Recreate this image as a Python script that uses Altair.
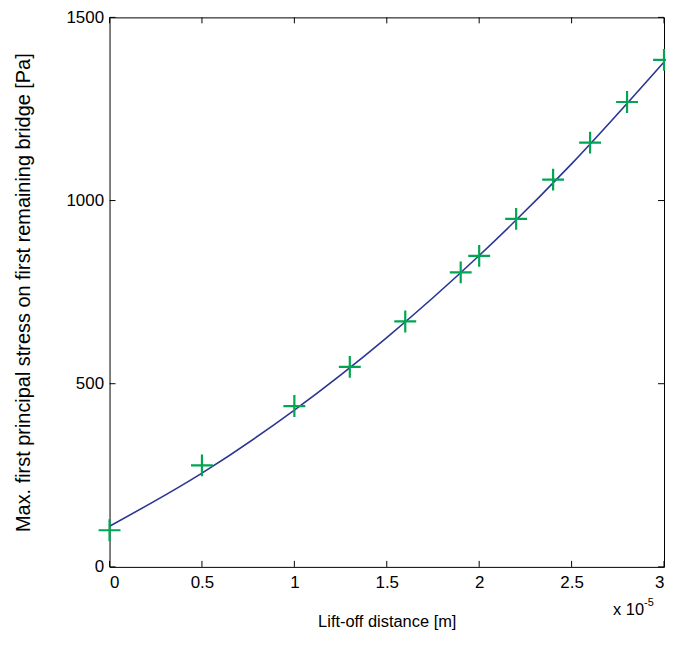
import altair as alt
import pandas as pd

# Data (x in units of 1e-5 m)
marker_x = [0.0, 0.5, 1.0, 1.3, 1.6, 1.9, 2.0, 2.2, 2.4, 2.6, 2.8, 3.0]
marker_y = [100, 277, 439, 546, 670, 804, 849, 950, 1057, 1158, 1269, 1384]

fit_x = [0.0, 0.5, 1.0, 1.5, 2.0, 2.5, 3.0]
fit_y = [111, 256, 428, 626, 850, 1100, 1378]

x_ticks = [0.0, 0.5, 1.0, 1.5, 2.0, 2.5, 3.0]
y_ticks = [0, 500, 1000, 1500]

W, H = 557, 552
FONT = "Liberation Sans"

markers = pd.DataFrame({"x": marker_x, "y": marker_y})
fit = pd.DataFrame({"x": fit_x, "y": fit_y})
xt = pd.DataFrame({"x": x_ticks})
yt = pd.DataFrame({"y": y_ticks})

xscale = alt.Scale(domain=[0, 3], nice=False, zero=False)
yscale = alt.Scale(domain=[0, 1500], nice=False, zero=False)

xaxis = alt.Axis(values=x_ticks, format="~g", domain=False, ticks=False, grid=False,
                 labelFont=FONT, labelFontSize=17, labelColor="black", labelPadding=8,
                 title="Lift-off distance [m]", titleFont=FONT, titleFontSize=16.5,
                 titleFontWeight="normal", titleColor="black", titlePadding=23)
yaxis = alt.Axis(values=y_ticks, format="d", domain=False, ticks=False, grid=False,
                 labelFont=FONT, labelFontSize=17, labelColor="black", labelPadding=6,
                 title="Max. first principal stress on first remaining bridge [Pa]",
                 titleFont=FONT, titleFontSize=20, titleFontWeight="normal",
                 titleColor="black", titlePadding=33)

X = alt.X("x:Q", scale=xscale, axis=xaxis)
Y = alt.Y("y:Q", scale=yscale, axis=yaxis)

line = alt.Chart(fit).mark_line(color="#2b3594", strokeWidth=1.6, interpolate="monotone").encode(
    x=X, y=Y)

pts = alt.Chart(markers).mark_point(
    shape="M-1,0L1,0M0,-1L0,1", filled=False, color="#00a651", strokeWidth=2.2,
    size=484, opacity=1, clip=False,
).encode(x=X, y=Y)

tick_len = 6
bx = alt.Chart(xt).mark_rule(color="black", strokeWidth=1).encode(
    x=X, y=alt.value(H), y2=alt.value(H - tick_len))
tx = alt.Chart(xt).mark_rule(color="black", strokeWidth=1).encode(
    x=X, y=alt.value(0), y2=alt.value(tick_len))
ly = alt.Chart(yt).mark_rule(color="black", strokeWidth=1).encode(
    y=Y, x=alt.value(0), x2=alt.value(tick_len))
ry = alt.Chart(yt).mark_rule(color="black", strokeWidth=1).encode(
    y=Y, x=alt.value(W), x2=alt.value(W - tick_len))

exp_base = alt.Chart(pd.DataFrame({"t": ["x 10"]})).mark_text(
    font=FONT, fontSize=16.5, align="right", baseline="alphabetic", color="black").encode(
    text="t:N", x=alt.value(W - 20), y=alt.value(H + 48))
exp_sup = alt.Chart(pd.DataFrame({"t": ["-5"]})).mark_text(
    font=FONT, fontSize=11, align="left", baseline="alphabetic", color="black").encode(
    text="t:N", x=alt.value(W - 20), y=alt.value(H + 39))

chart = alt.layer(line, pts, bx, tx, ly, ry, exp_base, exp_sup).properties(
    width=W, height=H,
    autosize=alt.AutoSizeParams(type="none"),
    padding={"left": 102, "top": 8, "right": 2, "bottom": 66},
).configure(background="white", view=alt.ViewConfig(stroke="black", strokeWidth=1))

chart.save("out.html", embed_options={"renderer": "svg", "actions": False})
